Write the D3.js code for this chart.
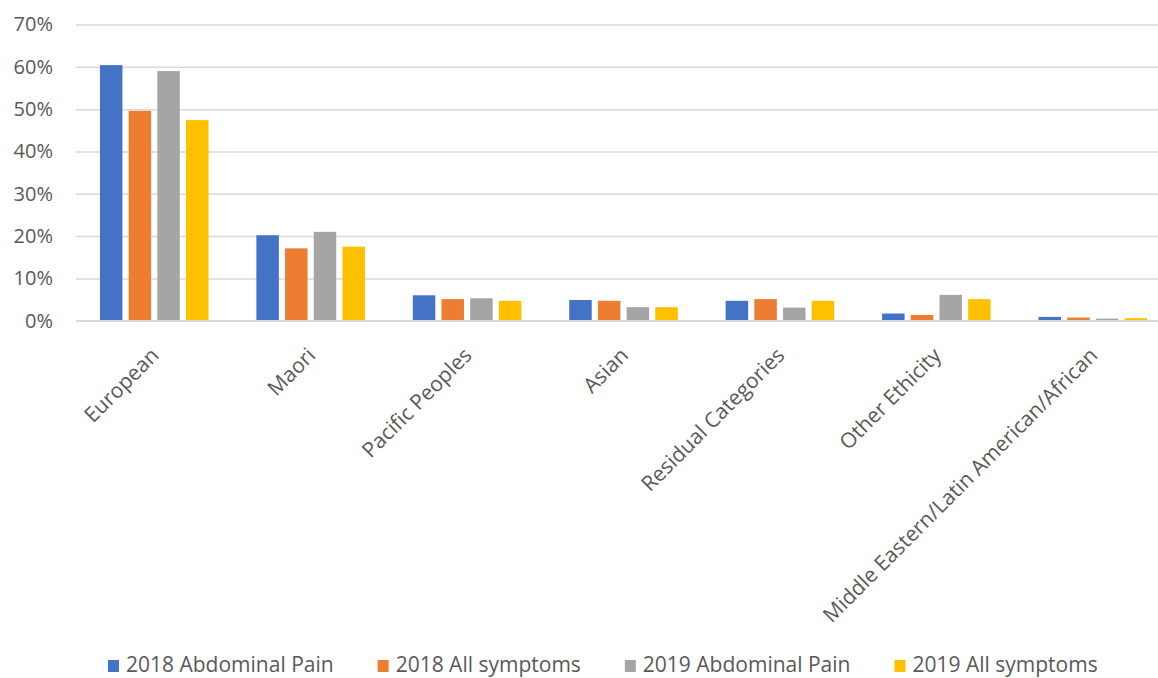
<!DOCTYPE html>
<html>
<head>
<meta charset="utf-8">
<script src="https://cdn.jsdelivr.net/npm/d3@7"></script>
<style>
  html, body { margin: 0; padding: 0; background: #fff; }
  svg { display: block; }
  svg text { font-family: "Open Sans", "Noto Sans", sans-serif; fill: #595959; }
</style>
</head>
<body>
<svg id="chart" width="1158" height="678"></svg>
<script>
// Share of patients by ethnic group
const categories = [
  "European", "Maori", "Pacific Peoples", "Asian",
  "Residual Categories", "Other Ethicity", "Middle Eastern/Latin American/African"
];
const seriesNames = [
  "2018 Abdominal Pain", "2018 All symptoms", "2019 Abdominal Pain", "2019 All symptoms"
];
const abdominal2018 = [60.4, 20.2, 6.0, 4.9, 4.7, 1.7, 0.9];
const allSymptoms2018 = [49.6, 17.1, 5.1, 4.7, 5.1, 1.35, 0.75];
const abdominal2019 = [59.0, 21.0, 5.3, 3.2, 3.1, 6.1, 0.5];
const allSymptoms2019 = [47.4, 17.5, 4.7, 3.2, 4.7, 5.1, 0.6];
const yTicks = [0, 10, 20, 30, 40, 50, 60, 70];

const seriesValues = [abdominal2018, allSymptoms2018, abdominal2019, allSymptoms2019];
const colors = ["#4472C4", "#ED7D31", "#A5A5A5", "#FFC000"];

const svg = d3.select("#chart");
const plotLeft = 76, plotRight = 1171, plotTop = 24.5, plotBottom = 320.7;

const x0 = d3.scaleBand().domain(categories).range([plotLeft, plotRight])
  .paddingInner(0.306).paddingOuter(0.153);
const x1 = d3.scaleBand().domain(seriesNames).range([0, x0.bandwidth()])
  .paddingInner(0.216);
const y = d3.scaleLinear().domain([0, 70]).range([plotBottom, plotTop]);

// Gridlines and y axis labels
const yAxis = d3.axisLeft(y).tickValues(yTicks)
  .tickSize(-(1158 - plotLeft)).tickPadding(23).tickFormat(d => d + "%");
const gy = svg.append("g").attr("transform", `translate(${plotLeft},0)`).call(yAxis);
gy.attr("font-family", null);
gy.select(".domain").remove();
gy.selectAll(".tick line").attr("stroke", "#d9d9d9").attr("stroke-width", 1.5);
gy.selectAll(".tick text").attr("fill", "#595959").style("font-size", "20px");

// Bars
const groups = svg.append("g").selectAll("g")
  .data(categories).join("g")
  .attr("transform", d => `translate(${x0(d)},0)`);
groups.selectAll("rect")
  .data((c, i) => seriesNames.map((s, k) => ({ s, v: seriesValues[k][i], k })))
  .join("rect")
  .attr("x", d => x1(d.s))
  .attr("width", x1.bandwidth())
  .attr("y", d => y(d.v))
  .attr("height", d => y(0) - y(d.v))
  .attr("fill", d => colors[d.k]);

// Baseline
svg.append("line").attr("x1", plotLeft).attr("x2", 1158)
  .attr("y1", y(0)).attr("y2", y(0))
  .attr("stroke", "#d9d9d9").attr("stroke-width", 1.5);

// Rotated category labels
const xAxis = d3.axisBottom(x0).tickSize(0).tickPadding(0);
const gx = svg.append("g").attr("transform", `translate(0,${plotBottom})`).call(xAxis);
gx.attr("font-family", null);
gx.select(".domain").remove();
gx.selectAll(".tick text")
  .attr("fill", "#595959").style("font-size", "21px")
  .attr("text-anchor", "end")
  .attr("dy", 0).attr("y", 0)
  .attr("transform", "translate(6,36) rotate(-45)");

// Legend
const legend = svg.append("g").attr("transform", "translate(108,672)");
let lx = 0;
seriesNames.forEach((name, k) => {
  const item = legend.append("g").attr("transform", `translate(${lx},0)`);
  item.append("rect").attr("x", 0).attr("y", -12).attr("width", 11).attr("height", 12)
    .attr("fill", colors[k]);
  const t = item.append("text").attr("x", 18).attr("y", 0)
    .style("font-size", "21px").text(name);
  lx += 18 + t.node().getComputedTextLength() + 44;
});
</script>
</body>
</html>
